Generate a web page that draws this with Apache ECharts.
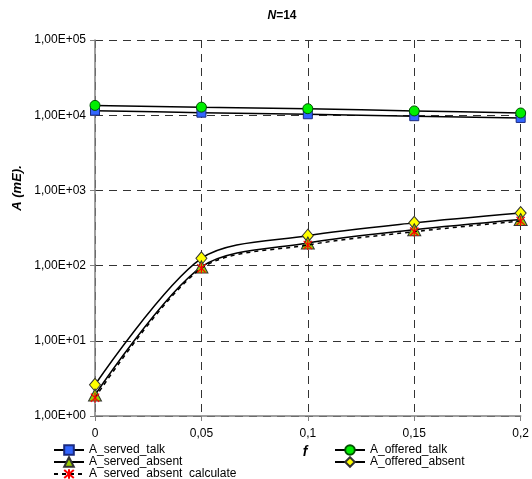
<!DOCTYPE html>
<html>
<head>
<meta charset="utf-8">
<script src="https://cdn.jsdelivr.net/npm/echarts@6/dist/echarts.min.js"></script>
<style>html,body{margin:0;padding:0;background:#fff}#c{width:532px;height:479px}</style>
</head>
<body>
<div id="c"></div>
<script>
var fValues = [0, 0.05, 0.1, 0.15, 0.2];
var servedTalk = [11500, 10800, 10300, 9700, 9200];
var offeredTalk = [13500, 12800, 12200, 11400, 10700];
var servedAbsent = [1.9, 96, 200, 300, 410];
var offeredAbsent = [2.6, 125, 250, 370, 500];
var servedAbsentCalc = [1.75, 92, 188, 283, 392];
var yTickExponents = [0, 1, 2, 3, 4, 5];

function pairs(ys) { return fValues.map(function (x, i) { return [x, ys[i]]; }); }

var FONT = '"Liberation Sans", Arial, sans-serif';
var chart = echarts.init(document.getElementById('c'), null, {renderer: 'canvas'});
var asterisk = 'path://M0,0L10,10M10,0L0,10M5,-1L5,11';

var legendCommon = {
  orient: 'vertical', top: 444, padding: 0, itemGap: 0, itemWidth: 30, itemHeight: 12,
  height: 40,
  textStyle: {fontSize: 12, color: '#000', fontFamily: FONT, lineHeight: 12}
};

chart.setOption({
  animation: false,
  backgroundColor: '#ffffff',
  textStyle: {fontFamily: FONT},
  title: {
    text: '{i|N}{b|=14}',
    left: 277, top: 5, textAlign: 'center',
    textStyle: {
      rich: {
        i: {fontFamily: FONT, fontSize: 12, fontWeight: 'bold', fontStyle: 'italic', color: '#000'},
        b: {fontFamily: FONT, fontSize: 12, fontWeight: 'bold', color: '#000'}
      }
    }
  },
  grid: {left: 95, right: 9, top: 40, bottom: 63, containLabel: false},
  xAxis: {
    type: 'value', min: 0, max: 0.2, interval: 0.05,
    axisLine: {show: true, onZero: false, lineStyle: {color: '#808080', width: 1.5}},
    axisTick: {show: true, inside: false, length: 5, lineStyle: {color: '#808080'}},
    splitLine: {show: true, lineStyle: {color: '#333', type: [8, 6], width: 1}},
    axisLabel: {
      color: '#000', fontSize: 12, fontFamily: FONT, margin: 12,
      formatter: function (v) { return String(+v.toFixed(2)).replace('.', ','); }
    }
  },
  yAxis: {
    type: 'log', logBase: 10, min: 1, max: 100000,
    axisLine: {show: true, lineStyle: {color: '#808080', width: 1.5}},
    axisTick: {show: true, length: 5, lineStyle: {color: '#808080'}},
    minorTick: {show: false},
    splitLine: {show: true, lineStyle: {color: '#333', type: [8, 6], width: 1}},
    axisLabel: {
      color: '#000', fontSize: 12, fontFamily: FONT, margin: 9,
      formatter: function (v) {
        var e = Math.round(Math.log10(v));
        if (yTickExponents.indexOf(e) < 0) return '';
        return '1,00E+' + (e < 10 ? '0' : '') + e;
      }
    }
  },
  graphic: [
    {type: 'text', x: 17, y: 188, rotation: Math.PI / 2,
     style: {text: 'A (mE).', font: 'italic bold 13px ' + FONT, fill: '#000', textAlign: 'center', textVerticalAlign: 'middle'}},
    {type: 'text', x: 305, y: 452,
     style: {text: 'f', font: 'italic bold 14px ' + FONT, fill: '#000', textAlign: 'center', textVerticalAlign: 'middle'}}
  ],
  legend: [
    Object.assign({}, legendCommon, {left: 53, data: ['A_served_talk', 'A_served_absent', 'A_served_absent_calculate']}),
    Object.assign({}, legendCommon, {left: 334, data: ['A_offered_talk', 'A_offered_absent']})
  ],
  series: [
    {
      name: 'A_served_talk', type: 'line', smooth: 0.3, data: pairs(servedTalk),
      symbol: 'rect', symbolSize: 9,
      lineStyle: {color: '#000', width: 1.5},
      itemStyle: {color: '#3366FF', borderColor: '#1a2a80', borderWidth: 1}
    },
    {
      name: 'A_offered_talk', type: 'line', smooth: 0.3, data: pairs(offeredTalk),
      symbol: 'circle', symbolSize: 10,
      lineStyle: {color: '#000', width: 1.5},
      itemStyle: {color: '#00EE00', borderColor: '#005000', borderWidth: 1}
    },
    {
      name: 'A_served_absent_calculate', type: 'line', smooth: 0.3, data: pairs(servedAbsentCalc),
      symbol: asterisk, symbolSize: 10, symbolKeepAspect: true, z: 4,
      lineStyle: {color: '#000', width: 1.5, type: [4, 4]},
      itemStyle: {color: 'rgba(0,0,0,0)', borderColor: '#FF0000', borderWidth: 1.2}
    },
    {
      name: 'A_offered_absent', type: 'line', smooth: 0.3, data: pairs(offeredAbsent),
      symbol: 'diamond', symbolSize: [11, 13],
      lineStyle: {color: '#000', width: 1.5},
      itemStyle: {color: '#FFFF00', borderColor: '#333', borderWidth: 1}
    },
    {
      name: 'A_served_absent', type: 'line', smooth: 0.3, data: pairs(servedAbsent),
      symbol: 'triangle', symbolSize: [13, 12],
      lineStyle: {color: '#000', width: 1.5},
      itemStyle: {color: '#99CC00', borderColor: '#333', borderWidth: 1}
    }
  ]
});
</script>
</body>
</html>
